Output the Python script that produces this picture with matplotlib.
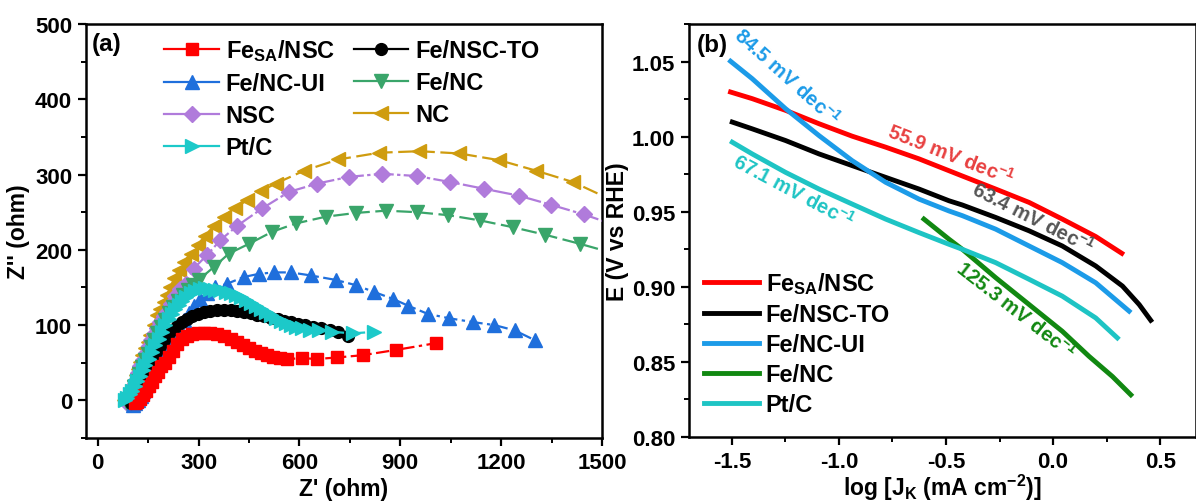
import matplotlib
matplotlib.use('Agg')
import matplotlib.pyplot as plt
from matplotlib.lines import Line2D
from matplotlib.ticker import MultipleLocator, FormatStrFormatter

plt.rcParams['font.family'] = ['Liberation Sans', 'DejaVu Sans']
plt.rcParams['font.weight'] = 'bold'
plt.rcParams['axes.labelweight'] = 'bold'
plt.rcParams['mathtext.fontset'] = 'custom'
plt.rcParams['mathtext.rm'] = 'Liberation Sans:bold'
plt.rcParams['mathtext.it'] = 'Liberation Sans:bold'
plt.rcParams['mathtext.bf'] = 'Liberation Sans:bold'
plt.rcParams['mathtext.default'] = 'rm'
plt.rcParams['axes.unicode_minus'] = False

# ---- (a) Nyquist data: Z' (ohm) vs Z'' (ohm) ----
fesa_x = [110, 118, 126, 134, 143, 151, 160, 169, 178, 188, 199, 211, 223, 236, 250, 265, 281, 298, 316, 335,
          355, 375, 395, 414, 432, 450, 468, 486, 504, 522, 541, 564, 609, 653, 713, 788, 887, 1006]
fesa_y = [-4, -2, 2, 7, 13, 19, 25, 32, 38, 45, 50, 57, 66, 75, 82, 86, 88, 89, 89, 89,
          88, 86, 82, 78, 74, 70, 66, 63, 60, 58, 56, 55, 56, 55, 57, 60, 67, 76]

feto_x = [100, 106, 113, 120, 128, 136, 145, 154, 164, 174, 185, 197, 209, 222, 236, 250, 265, 281, 298, 316,
          335, 355, 375, 395, 415, 435, 455, 475, 495, 515, 535, 555, 575, 595, 615, 640, 665, 690, 715, 743]
feto_y = [-3, 0, 5, 12, 20, 28, 37, 46, 55, 64, 72, 80, 87, 93, 99, 104, 108, 112, 115, 117,
          119, 120, 120, 120, 119, 118, 116, 114, 112, 110, 108, 106, 104, 102, 100, 98, 96, 94, 91, 86]

feui_x = [105, 112, 120, 128, 136, 145, 154, 163, 173, 183, 194, 205, 217, 229, 242, 256, 271, 287, 305, 325,
          350, 385, 435, 479, 524, 574, 633, 708, 768, 822, 877, 922, 981, 1046, 1116, 1180, 1240, 1300]
feui_y = [-6, -4, 0, 6, 13, 20, 28, 36, 45, 53, 62, 71, 80, 89, 98, 107, 116, 125, 134, 142,
          150, 155, 164, 168, 170, 170, 166, 160, 153, 144, 135, 126, 115, 109, 104, 100, 93, 80]

fenc_x = [88, 95, 102, 109, 116, 124, 132, 140, 149, 158, 167, 177, 188, 199, 211, 224, 238, 253, 268, 284,
          300, 345, 390, 450, 519, 589, 678, 768, 857, 950, 1043, 1138, 1235, 1331, 1434, 1530]
fenc_y = [-3, 3, 10, 18, 26, 35, 44, 53, 62, 71, 80, 89, 98, 107, 116, 124, 132, 140, 146, 153,
          160, 177, 195, 208, 224, 235, 244, 249, 252, 250, 246, 239, 230, 220, 208, 196]

nsc_x = [85, 92, 99, 106, 113, 120, 127, 135, 143, 151, 159, 168, 177, 186, 196, 206, 218, 231, 246, 261,
         285, 325, 365, 415, 489, 569, 653, 748, 847, 950, 1049, 1150, 1252, 1347, 1446, 1545]
nsc_y = [-2, 4, 11, 19, 27, 36, 45, 54, 63, 72, 80, 88, 96, 104, 112, 118, 128, 138, 148, 155,
         175, 193, 213, 232, 255, 277, 288, 297, 301, 298, 290, 281, 272, 260, 247, 232]

nc_x = [78, 84, 90, 96, 102, 108, 114, 120, 126, 133, 141, 148, 156, 166, 176, 186, 196, 206, 216, 228,
        241, 256, 276, 298, 320, 346, 375, 408, 445, 485, 529, 613, 715, 837, 957, 1076, 1195, 1305, 1414, 1520]
nc_y = [0, 4, 9, 15, 21, 27, 34, 42, 51, 60, 69, 78, 87, 100, 113, 122, 131, 140, 151, 162,
        173, 184, 195, 207, 219, 232, 244, 256, 266, 278, 288, 305, 320, 329, 331, 328, 319, 305, 290, 268]

ptc_x = [82, 88, 95, 102, 110, 118, 126, 134, 142, 151, 161, 171, 181, 191, 201, 211, 221, 231, 241, 251,
         263, 276, 290, 305, 320, 335, 350, 365, 380, 395, 410, 425, 440, 455, 470, 485, 500, 515, 530, 545,
         559, 574, 590, 609, 630, 658, 698, 758, 822]
ptc_y = [0, 3, 8, 13, 19, 26, 33, 40, 47, 55, 64, 73, 82, 91, 100, 108, 115, 121, 127, 132,
         137, 142, 145, 148, 149, 148, 147, 146, 144, 142, 140, 137, 133, 129, 125, 121, 117, 113, 109, 106,
         103, 100, 98, 96, 94, 93, 91, 89, 91]

# ---- (b) Tafel data: log JK vs E (V vs RHE) ----
t_fesa_x = [-1.506, -1.405, -1.249, -1.093, -0.938, -0.782, -0.626, -0.486, -0.424, -0.268, -0.112, 0.043, 0.199, 0.321]
t_fesa_y = [1.0297, 1.0253, 1.0175, 1.0086, 1.0003, 0.9930, 0.9852, 0.9773, 0.9738, 0.9651, 0.9562, 0.9451, 0.9335, 0.9223]
t_feto_x = [-1.498, -1.405, -1.249, -1.093, -0.938, -0.782, -0.626, -0.486, -0.424, -0.268, -0.112, 0.043, 0.199, 0.324, 0.402, 0.456]
t_feto_y = [1.0097, 1.0052, 0.9974, 0.9885, 0.9807, 0.9729, 0.9651, 0.9573, 0.9545, 0.9462, 0.9373, 0.9272, 0.9139, 0.9005, 0.8882, 0.8777]
t_feui_x = [-1.506, -1.405, -1.249, -1.093, -0.938, -0.782, -0.626, -0.486, -0.424, -0.268, -0.112, 0.043, 0.199, 0.355]
t_feui_y = [1.0502, 1.0386, 1.0186, 1.0007, 0.9840, 0.9696, 0.9584, 0.9505, 0.9474, 0.9384, 0.9272, 0.9161, 0.9027, 0.8838]
t_fenc_x = [-0.603, -0.486, -0.424, -0.268, -0.112, 0.043, 0.168, 0.277, 0.363]
t_fenc_y = [0.9451, 0.9317, 0.9250, 0.9061, 0.8882, 0.8704, 0.8537, 0.8403, 0.8281]
t_ptc_x = [-1.498, -1.405, -1.249, -1.093, -0.938, -0.782, -0.626, -0.486, -0.424, -0.268, -0.112, 0.043, 0.199, 0.300]
t_ptc_y = [0.9963, 0.9885, 0.9762, 0.9651, 0.9551, 0.9451, 0.9361, 0.9283, 0.9250, 0.9161, 0.9050, 0.8938, 0.8793, 0.8660]

labels = [r'Fe$_{\rm SA}$/NSC', 'Fe/NSC-TO', 'Fe/NC-UI', 'Fe/NC', 'NSC', 'NC', 'Pt/C']
slopes = ['84.5', '55.9', '63.4', '67.1', '125.3']

c_red = '#ff0000'
c_black = '#000000'
c_blue = '#1f6fdc'
c_green = '#3aa56a'
c_purple = '#b07bdb'
c_gold = '#cf9c0f'
c_cyan = '#1cc9c9'

fig = plt.figure(figsize=(11.96, 5.02), dpi=100)
ax1 = fig.add_axes([86 / 1196, 63 / 502, 516 / 1196, 414 / 502])
ax2 = fig.add_axes([689 / 1196, 64 / 502, 506.5 / 1196, 413 / 502])

# plot order chosen so overlaps look like the original
ax1.plot(nc_x, nc_y, color=c_gold, ls=(0, (7, 2.5)), lw=1.6, marker='<', ms=10, zorder=2)
ax1.plot(nsc_x, nsc_y, color=c_purple, ls=(0, (9, 1.5, 1.5, 1.5)), lw=1.6, marker='D', ms=8, zorder=3)
ax1.plot(fenc_x, fenc_y, color=c_green, ls=(0, (7, 2.5)), lw=1.6, marker='v', ms=10, zorder=4)
ax1.plot(feui_x, feui_y, color=c_blue, ls=(0, (6, 2, 1.5, 2)), lw=1.6, marker='^', ms=10, zorder=5)
ax1.plot(feto_x, feto_y, color=c_black, ls='-', lw=1.6, marker='o', ms=8.5, zorder=6)
ax1.plot(fesa_x, fesa_y, color=c_red, ls=(0, (6, 2, 1.5, 2)), lw=1.6, marker='s', ms=8, zorder=7)
ax1.plot(ptc_x, ptc_y, color=c_cyan, ls=(0, (7, 2.5)), lw=1.6, marker='>', ms=10, zorder=8)

proxy = [
    Line2D([], [], color=c_red, lw=1.6, marker='s', ms=8),
    Line2D([], [], color=c_blue, lw=1.6, marker='^', ms=10),
    Line2D([], [], color=c_purple, lw=1.6, marker='D', ms=8),
    Line2D([], [], color=c_cyan, lw=1.6, marker='>', ms=10),
    Line2D([], [], color=c_black, lw=1.6, marker='o', ms=8.5),
    Line2D([], [], color=c_green, lw=1.6, marker='v', ms=10),
    Line2D([], [], color=c_gold, lw=1.6, marker='<', ms=10),
]
proxy_labels = [labels[0], labels[2], labels[4], labels[6], labels[1], labels[3], labels[5]]
ax1.legend(proxy, proxy_labels, ncol=2, loc='upper left', bbox_to_anchor=(0.152, 0.968),
           frameon=False, fontsize=17, handlelength=2.3, handletextpad=0.3,
           columnspacing=0.8, labelspacing=0.38, borderpad=0, borderaxespad=0)

ax1.set_xlim(-35, 1500)
ax1.set_ylim(-50, 500)
ax1.xaxis.set_major_locator(MultipleLocator(300))
ax1.xaxis.set_minor_locator(MultipleLocator(150))
ax1.yaxis.set_major_locator(MultipleLocator(100))
ax1.yaxis.set_minor_locator(MultipleLocator(50))
ax1.set_xlabel("Z' (ohm)", fontsize=16.5)
ax1.set_ylabel("Z'' (ohm)", fontsize=16.5)
ax1.xaxis.set_label_coords(0.5, -0.095)
ax1.yaxis.set_label_coords(-0.108, 0.5)
ax1.text(0.012, 0.952, '(a)', transform=ax1.transAxes, fontsize=17.5, ha='left', va='center')

# ---- (b) ----
ax2.plot(t_fesa_x, t_fesa_y, color=c_red, lw=3.5, label=labels[0])
ax2.plot(t_feto_x, t_feto_y, color=c_black, lw=3.5, label=labels[1])
ax2.plot(t_feui_x, t_feui_y, color='#1c9be8', lw=3.5, label=labels[2])
ax2.plot(t_fenc_x, t_fenc_y, color='#118811', lw=3.5, label=labels[3])
ax2.plot(t_ptc_x, t_ptc_y, color='#1ec4c4', lw=3.5, label=labels[6])

ax2.legend(loc='lower left', bbox_to_anchor=(0.03, 0.05), frameon=False, fontsize=17,
           handlelength=2.3, handletextpad=0.3, labelspacing=0.3, borderpad=0, borderaxespad=0)

ann = [(-1.243, 1.040, -42, '#1c9be8'), (-0.477, 0.9885, -21.5, '#e84040'),
       (-0.093, 0.9465, -27, '#555555'), (-1.210, 0.964, -28, '#1ec4c4'),
       (-0.175, 0.8850, -38, '#118811')]
for (x, y, rot, col), s in zip(ann, slopes):
    ax2.text(x, y, s + r' mV dec$^{-1}$', color=col, fontsize=14.5, rotation=rot,
             rotation_mode='anchor', ha='center', va='center')

ax2.set_xlim(-1.7, 0.665)
ax2.set_ylim(0.80, 1.075)
ax2.xaxis.set_major_locator(MultipleLocator(0.5))
ax2.xaxis.set_minor_locator(MultipleLocator(0.25))
ax2.yaxis.set_major_locator(MultipleLocator(0.05))
ax2.yaxis.set_minor_locator(MultipleLocator(0.025))
ax2.xaxis.set_major_formatter(FormatStrFormatter('%.1f'))
ax2.yaxis.set_major_formatter(FormatStrFormatter('%.2f'))
ax2.set_xlabel(r'log [J$_{\rm K}$ (mA cm$^{-2}$)]', fontsize=16.5)
ax2.set_ylabel('E (V vs RHE)', fontsize=16.5)
ax2.xaxis.set_label_coords(0.5, -0.085)
ax2.yaxis.set_label_coords(-0.118, 0.5)
ax2.text(0.016, 0.951, '(b)', transform=ax2.transAxes, fontsize=17.5, ha='left', va='center')

for ax in (ax1, ax2):
    for sp in ax.spines.values():
        sp.set_linewidth(1.8)
    ax.tick_params(which='major', direction='out', length=6, width=1.6, labelsize=16, pad=4)
    ax.tick_params(which='minor', direction='out', length=3.5, width=1.4)

fig.savefig('out.png', dpi=100)
